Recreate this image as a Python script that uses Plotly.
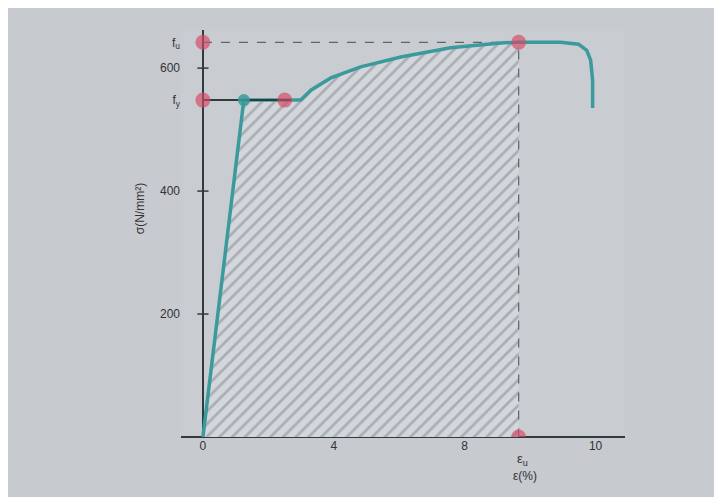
import plotly.graph_objects as go

# Stress-strain data (strain in %, stress in N/mm^2)
strain = [0, 1.25, 2.99, 3.30, 3.91, 4.82, 6.05, 7.57, 9.10, 9.65, 10.93, 11.48, 11.73, 11.85, 11.91, 11.91]
stress = [0, 548, 548, 564, 584, 602, 618, 633, 641, 642, 642, 639, 629, 613, 580, 535]

fy = 548
fu = 642
eps_y = 1.25
eps_u = 9.65

x_tick_vals = [0, 4, 8, 12]
x_tick_text = ["0", "4", "8", "10"]
y_tick_vals = [200, 400, 600, fy, fu]
y_tick_text = ["200", "400", "600", "f<sub>y</sub>", "f<sub>u</sub>"]

teal = "#3a9a9c"
red = "rgba(215,70,100,0.65)"
dark = "#2f3b3d"

# hatched area under curve up to eps_u
hx = [s for s in strain if s <= eps_u] + [eps_u, 0]
hy = [stress[i] for i, s in enumerate(strain) if s <= eps_u] + [0, 0]

fig = go.Figure()
fig.add_trace(go.Scatter(
    x=hx, y=hy, mode="lines", fill="toself", line=dict(width=0),
    fillcolor="rgba(0,0,0,0)",
    fillpattern=dict(shape="/", fgcolor="#7f858e", bgcolor="#d3d6da", size=9, solidity=0.3),
    hoverinfo="skip", showlegend=False))

# dashed guide lines
fig.add_trace(go.Scatter(x=[0, eps_u, eps_u], y=[fu, fu, 0], mode="lines",
                         line=dict(color="#5e646a", width=1.2, dash="dash"),
                         showlegend=False, hoverinfo="skip"))

# curve
fig.add_trace(go.Scatter(x=strain, y=stress, mode="lines",
                         line=dict(color=teal, width=3.5, shape="linear"),
                         showlegend=False))

# yield level line
fig.add_trace(go.Scatter(x=[0, 2.7], y=[fy, fy], mode="lines",
                         line=dict(color=dark, width=2), showlegend=False))

# small ticks on y axis
fig.add_trace(go.Scatter(x=[0]*3, y=[200, 400, 600], mode="markers",
                         marker=dict(symbol="line-ew", size=8, line=dict(color=dark, width=1.5)),
                         showlegend=False, hoverinfo="skip"))

# markers
fig.add_trace(go.Scatter(x=[eps_y], y=[fy], mode="markers",
                         marker=dict(color="rgba(58,154,156,0.85)", size=12),
                         showlegend=False))
fig.add_trace(go.Scatter(x=[0, 0, 2.5, eps_u, eps_u], y=[fu, fy, fy, fu, 0], mode="markers",
                         marker=dict(color=red, size=15, symbol="circle"),
                         showlegend=False))

fig.add_annotation(x=eps_u, y=0, xref="x", yref="y", text="ε<sub>u</sub>", showarrow=False,
                   yshift=-22, xshift=4, font=dict(size=13, color="#333"))
fig.add_annotation(x=eps_u, y=0, xref="x", yref="y", text="ε(%)", showarrow=False,
                   yshift=-39, xshift=6, font=dict(size=12, color="#333"))
fig.add_annotation(x=-0.092, y=0.56, xref="paper", yref="paper", text="σ(N/mm²)",
                   xanchor="center", yanchor="middle",
                   textangle=-90, showarrow=False, font=dict(size=12, color="#333"))

fig.update_layout(
    width=722, height=497,
    margin=dict(l=173, r=105, t=22, b=68),
    paper_bgcolor="#c7cacf", plot_bgcolor="#c9ccd1",
    font=dict(family="Liberation Sans, Arial", size=12, color="#333"),
    xaxis=dict(range=[-0.67, 12.9], showgrid=False, zeroline=True, zerolinecolor=dark,
               zerolinewidth=2, tickvals=x_tick_vals, ticktext=x_tick_text, ticks="",
               showline=False),
    yaxis=dict(range=[0, 662], showgrid=False, zeroline=True, zerolinecolor=dark,
               zerolinewidth=2, tickvals=y_tick_vals, ticktext=y_tick_text, ticks="",
               showline=False),
)

fig.write_html("out.html")
